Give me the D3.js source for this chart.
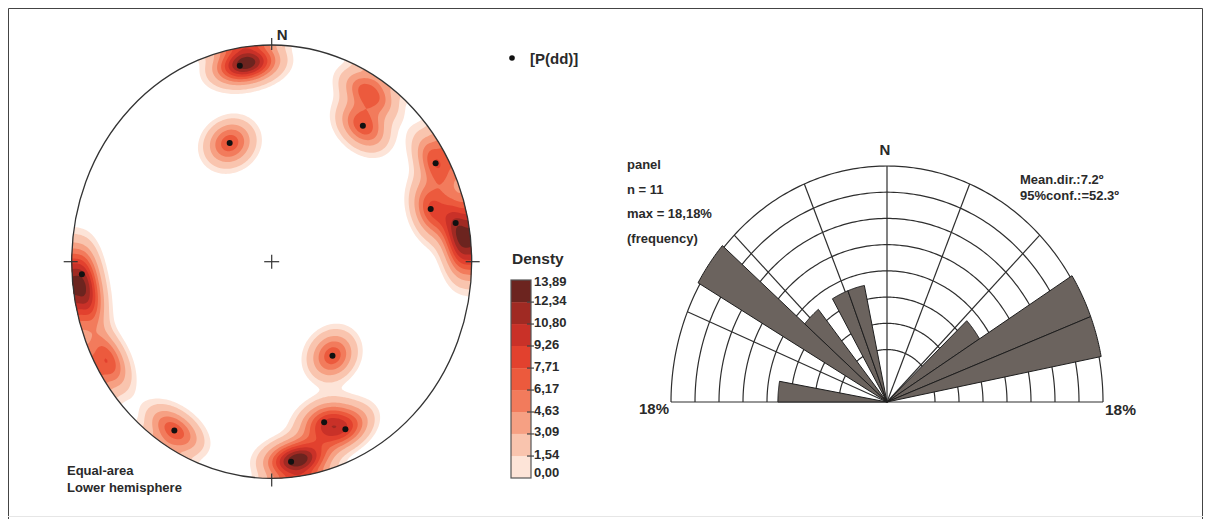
<!DOCTYPE html>
<html><head><meta charset="utf-8">
<script src="https://cdn.jsdelivr.net/npm/d3@7"></script>
<style>
body{margin:0;background:#fff}
svg{display:block}
text{font-family:"Liberation Sans",Arial,sans-serif;fill:#2a2a2a}
</style>
</head><body>
<svg id="c" width="1210" height="519"></svg>
<script>
// ---------- data ----------
const poleTrend  = [350, 339, 36, 61, 73, 79, 266.5, 145, 212, 160.5, 154.5, 174];
const polePlunge = [9, 41, 23.5, 7, 18, 7, 5.5, 46, 9, 22.5, 15.5, 8];
const densityLevels = [0, 1.54, 3.09, 4.63, 6.17, 7.71, 9.26, 10.80, 12.34, 13.89];
const densityLabels = ["0,00","1,54","3,09","4,63","6,17","7,71","9,26","10,80","12,34","13,89"];
const densityColors = ["#fde4d8","#f9c4ae","#f6a083","#f27b5c","#ec5a3d","#e2412e","#c93128","#a02a23","#6c241f"];
const densityFloor = 0.8;
const roseBinStart = [270, 300, 311, 330, 339, 47, 58, 69];
const roseBinEnd   = [280, 311, 321, 339, 348, 58, 69, 79];
const roseFreq     = [9.09, 18.18, 9.09, 9.09, 9.09, 9.09, 18.18, 18.18];
const roseRings  = [4, 6, 8, 10, 12, 14, 16, 18];
const roseSpokes = [-67.5, -45, -22.5, 0, 22.5, 45, 67.5];
const roseMax = 18;
const roseStats = ["panel", "n = 11", "max = 18,18%", "(frequency)"];
const roseMean  = ["Mean.dir.:7.2º", "95%conf.:=52.3º"];

// ---------- setup ----------
const svg = d3.select("#c");
const PI = Math.PI, rad = d => d * PI / 180;

// frame
svg.append("path").attr("d","M8.5,519 V8.5 H1202.5 V519").attr("fill","none").attr("stroke","#444").attr("stroke-width",1);
svg.append("line").attr("x1",8).attr("x2",1203).attr("y1",516.5).attr("y2",516.5).attr("stroke","#e6e6e6");

// ---------- stereonet ----------
const S = {cx: 271.7, cy: 261.7, rx: 200, ry: 216.7};
const sx = d3.scaleLinear([-1, 1], [S.cx - S.rx, S.cx + S.rx]);
const sy = d3.scaleLinear([-1, 1], [S.cy + S.ry, S.cy - S.ry]);

function proj(t, p) {
  const th = rad(90 - p), r = Math.SQRT2 * Math.sin(th / 2), a = rad(t);
  return [r * Math.sin(a), r * Math.cos(a)];
}
function vecTP(t, p) {
  const tr = rad(t), pr = rad(p);
  return [Math.cos(pr) * Math.sin(tr), Math.cos(pr) * Math.cos(tr), -Math.sin(pr)];
}
function vecXY(x, y) {
  let r = Math.hypot(x, y);
  if (r < 1e-9) return [0, 0, -1];
  let xx = x, yy = y;
  if (r > 1) { xx = x / r; yy = y / r; r = 1; }
  const th = 2 * Math.asin(r / Math.SQRT2), s = Math.sin(th);
  return [s * xx / r, s * yy / r, -Math.cos(th)];
}

// poles near the primitive also count on the opposite side of the net
const wrapPlunge = 12;
const kernelPoles = [];
poleTrend.forEach((t, i) => {
  const p = polePlunge[i];
  kernelPoles.push(vecTP(t, p));
  if (p < wrapPlunge) kernelPoles.push(vecTP(t + 180, p));
});
const kappa = 100;
const N = 230, E = 1.03;
const gridToX = g => -E + 2 * E * (g - 0.5) / (N - 1);
const gridToY = g => E - 2 * E * (g - 0.5) / (N - 1);
const vals = new Float64Array(N * N);
let vmax = 0;
for (let j = 0; j < N; j++) {
  for (let i = 0; i < N; i++) {
    const v = vecXY(gridToX(i + 0.5), gridToY(j + 0.5));
    let d = 0;
    for (const p of kernelPoles) {
      const c = Math.abs(v[0]*p[0] + v[1]*p[1] + v[2]*p[2]);
      d += Math.exp(kappa * (c - 1));
    }
    vals[j * N + i] = d;
    if (Math.hypot(gridToX(i + 0.5), gridToY(j + 0.5)) <= 1 && d > vmax) vmax = d;
  }
}
const dMax = densityLevels[densityLevels.length - 1];
for (let k = 0; k < vals.length; k++) vals[k] = vals[k] / vmax * dMax;

const thresholds = densityLevels.slice(0, -1).map((v, i) => i === 0 ? densityFloor : v);
const contours = d3.contours().size([N, N]).thresholds(thresholds)(Array.from(vals));
const gt = d3.geoTransform({
  point: function(x, y) { this.stream.point(sx(gridToX(x)), sy(gridToY(y))); }
});
const cpath = d3.geoPath(gt);

const defs = svg.append("defs");
defs.append("clipPath").attr("id","net").append("ellipse")
  .attr("cx", S.cx).attr("cy", S.cy).attr("rx", S.rx).attr("ry", S.ry);

svg.append("g").attr("clip-path","url(#net)")
  .selectAll("path").data(contours).join("path")
  .attr("d", cpath)
  .attr("fill", (d, i) => densityColors[i])
  .attr("stroke", "none");

// primitive circle
svg.append("ellipse").attr("cx", S.cx).attr("cy", S.cy).attr("rx", S.rx).attr("ry", S.ry)
  .attr("fill","none").attr("stroke","#333").attr("stroke-width",1.3);
const tk = svg.append("g").attr("stroke","#333").attr("stroke-width",1.2);
tk.append("line").attr("x1",S.cx).attr("x2",S.cx).attr("y1",sy(1)-7).attr("y2",sy(1)+5);
tk.append("line").attr("x1",S.cx).attr("x2",S.cx).attr("y1",sy(-1)-5).attr("y2",sy(-1)+8);
tk.append("line").attr("x1",sx(-1)-8).attr("x2",sx(-1)+6).attr("y1",S.cy).attr("y2",S.cy);
tk.append("line").attr("x1",sx(1)-6).attr("x2",sx(1)+8).attr("y1",S.cy).attr("y2",S.cy);
tk.append("line").attr("x1",S.cx-7.5).attr("x2",S.cx+7.5).attr("y1",S.cy).attr("y2",S.cy);
tk.append("line").attr("x1",S.cx).attr("x2",S.cx).attr("y1",S.cy-7).attr("y2",S.cy+7);

svg.append("text").attr("x", S.cx + 5).attr("y", 40).attr("font-size",15).attr("font-weight","bold").text("N");

// poles
svg.append("g").selectAll("circle").data(poleTrend).join("circle")
  .attr("cx", (t, i) => sx(proj(t, polePlunge[i])[0]))
  .attr("cy", (t, i) => sy(proj(t, polePlunge[i])[1]))
  .attr("r", 3).attr("fill", "#111");

// labels
svg.append("text").attr("x", 67).attr("y", 475).attr("font-size",13).attr("font-weight","bold").text("Equal-area");
svg.append("text").attr("x", 67).attr("y", 492).attr("font-size",13).attr("font-weight","bold").text("Lower hemisphere");

// legend for poles
svg.append("circle").attr("cx", 512).attr("cy", 58).attr("r", 2.8).attr("fill","#111");
svg.append("text").attr("x", 530).attr("y", 63.5).attr("font-size",15).attr("font-weight","bold").text("[P(dd)]");

// density legend
const L = {x: 511, w: 20, top: 280, bottom: 478};
const ly = d3.scaleLinear([0, dMax], [L.bottom, L.top]);
svg.append("text").attr("x", 512).attr("y", 264).attr("font-size",15.5).attr("font-weight","bold").text("Densty");
svg.append("g").selectAll("rect").data(densityColors).join("rect")
  .attr("x", L.x).attr("width", L.w)
  .attr("y", (c, i) => ly(densityLevels[i + 1]))
  .attr("height", (c, i) => ly(densityLevels[i]) - ly(densityLevels[i + 1]))
  .attr("fill", c => c);
svg.append("rect").attr("x", L.x).attr("y", L.top).attr("width", L.w).attr("height", L.bottom - L.top)
  .attr("fill","none").attr("stroke","#555").attr("stroke-width",1.2);
const lg = svg.append("g");
lg.selectAll("line").data(densityLevels.slice(1, -1)).join("line")
  .attr("x1", L.x + L.w - 4).attr("x2", L.x + L.w + 3)
  .attr("y1", d => ly(d)).attr("y2", d => ly(d)).attr("stroke","#444").attr("stroke-width",1.2);
lg.selectAll("text").data(densityLevels).join("text")
  .attr("x", L.x + L.w + 3).attr("y", d => ly(d) + 3.5 - (d === 0 ? 5 : d === dMax ? -2 : 1))
  .attr("font-size",13).attr("font-weight","bold")
  .text((d, i) => densityLabels[i]);

// ---------- rose diagram ----------
const R = {cx: 887, cy: 402, rx: 216, ry: 236};
const rr = d3.scaleLinear([0, roseMax], [0, 1]);
const rp = (deg, pct) => {
  const a = rad(deg), f = rr(pct);
  return [R.cx + R.rx * f * Math.sin(a), R.cy - R.ry * f * Math.cos(a)];
};
const line = d3.line();
const grid = svg.append("g").attr("fill","none").attr("stroke","#2e2e2e").attr("stroke-width",1.2);
grid.selectAll("path.ring").data(roseRings).join("path").attr("class","ring")
  .attr("d", v => line(d3.range(-90, 90.5, 1).map(a => rp(a, v))));
grid.selectAll("path.spoke").data(roseSpokes).join("path").attr("class","spoke")
  .attr("d", a => line([rp(a, 0), rp(a, roseMax)]));
grid.append("path").attr("d", line([rp(-90, roseMax), rp(90, roseMax)]));

svg.append("g").selectAll("path").data(roseFreq).join("path")
  .attr("d", (f, i) => {
    const a0 = roseBinStart[i], a1 = roseBinEnd[i];
    const arc = d3.range(a0, a1 + 0.01, 0.5).map(a => rp(a, f));
    return line([rp(a0, 0), ...arc]) + "Z";
  })
  .attr("fill", "#6b635e").attr("stroke", "#1e1e1e").attr("stroke-width", 1);

svg.append("text").attr("x", R.cx - 2).attr("y", 155).attr("text-anchor","middle")
  .attr("font-size",15).attr("font-weight","bold").text("N");
svg.append("text").attr("x", R.cx - R.rx - 2).attr("y", 414).attr("text-anchor","end")
  .attr("font-size",15).attr("font-weight","bold").text("18%");
svg.append("text").attr("x", R.cx + R.rx + 2).attr("y", 415).attr("font-size",15.5).attr("font-weight","bold").text("18%");

svg.append("g").selectAll("text").data(roseStats).join("text")
  .attr("x", 627).attr("y", (d, i) => 169 + i * 24.5)
  .attr("font-size",13).attr("font-weight","bold").text(d => d);
svg.append("g").selectAll("text").data(roseMean).join("text")
  .attr("x", 1020).attr("y", (d, i) => 184 + i * 16)
  .attr("font-size",13).attr("font-weight","bold").text(d => d);
</script>
</body></html>
